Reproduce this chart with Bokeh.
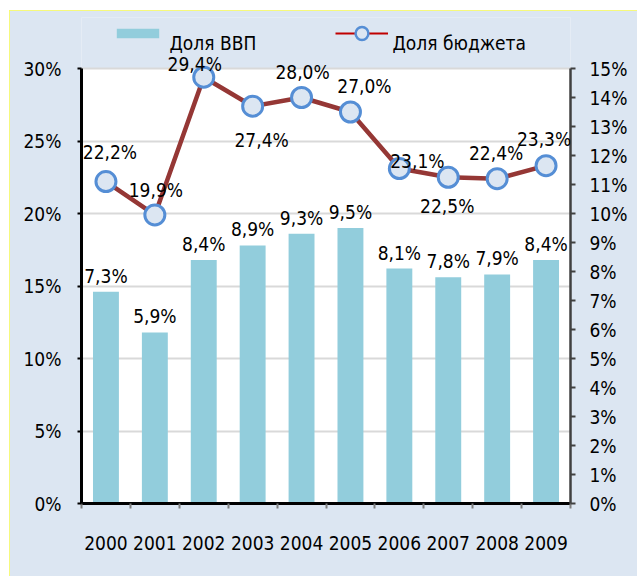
from bokeh.plotting import figure
from bokeh.models import (Range1d, LinearAxis, FixedTicker, PrintfTickFormatter,
                          Legend, LegendItem, Grid, BoxAnnotation, Label, LabelSet,
                          ColumnDataSource)
from bokeh.core.properties import value
from bokeh.embed import file_html
from bokeh.resources import INLINE

years = [2000, 2001, 2002, 2003, 2004, 2005, 2006, 2007, 2008, 2009]
gdp_share = [7.3, 5.9, 8.4, 8.9, 9.3, 9.5, 8.1, 7.8, 7.9, 8.4]
budget_share = [22.2, 19.9, 29.4, 27.4, 28.0, 27.0, 23.1, 22.5, 22.4, 23.3]
left_ticks = [0, 5, 10, 15, 20, 25, 30]
right_ticks = list(range(0, 16))
series_names = ["Доля ВВП", "Доля бюджета"]

FONT_NAME = "DejaVu Sans Condensed"
FONT = value(FONT_NAME)
FS = "19px"
BG = "#dce6f2"

LEFT_MAX, RIGHT_MAX = 30, 15
PLOT_H = 435          # pixel height of the white plot area
FRAME_H = 486         # frame also covers the legend strip above it
ext = FRAME_H / PLOT_H


def fmt(v):
    return f"{v:.1f}".replace(".", ",") + "%"


p = figure(width=628, height=566, x_range=Range1d(years[0] - 0.5, years[-1] + 0.5),
           y_range=Range1d(0, LEFT_MAX * ext),
           output_backend="svg", toolbar_location=None,
           min_border_left=72, min_border_right=67, min_border_top=7, min_border_bottom=73,
           border_fill_color=BG, background_fill_color=BG, outline_line_color=None,
           x_axis_type=None, y_axis_type=None)
p.margin = (10, 0, 0, 9)
p.styles = {"outline": "2px solid #ffff55", "outline-offset": "-2px"}
p.extra_y_ranges = {"right": Range1d(0, RIGHT_MAX * ext)}

# white plot area
p.add_layout(BoxAnnotation(bottom=0, top=LEFT_MAX, fill_color="white", fill_alpha=1,
                           line_color=None, level="underlay"))
p.add_layout(Grid(dimension=1, ticker=FixedTicker(ticks=left_ticks), grid_line_color="#d9d9d9",
                  grid_line_width=2, bounds=(0, LEFT_MAX)))

# axes
xaxis = LinearAxis(ticker=FixedTicker(ticks=years, minor_ticks=[y - 0.5 for y in years] + [years[-1] + 0.5]),
                   formatter=PrintfTickFormatter(format="%d"))
xaxis.major_tick_out = 0
xaxis.major_tick_in = 0
xaxis.minor_tick_out = 5
xaxis.minor_tick_in = 0
xaxis.minor_tick_line_color = "#7f7f7f"
xaxis.minor_tick_line_width = 2
xaxis.axis_line_color = "black"
xaxis.axis_line_width = 3
xaxis.major_label_standoff = 27
xaxis.major_label_text_font = FONT_NAME
xaxis.major_label_text_font_size = FS
xaxis.major_label_text_color = "black"
p.add_layout(xaxis, "below")

yleft = LinearAxis(ticker=FixedTicker(ticks=left_ticks), formatter=PrintfTickFormatter(format="%d%%"),
                   bounds=(0, LEFT_MAX))
yleft.major_tick_out = 4
yleft.major_tick_in = 0
yleft.minor_tick_out = 0
yleft.minor_tick_in = 0
yleft.major_tick_line_width = 2
yleft.axis_line_width = 3
yleft.axis_line_color = "black"
yleft.major_label_standoff = 16
yleft.major_label_text_font = FONT_NAME
yleft.major_label_text_font_size = FS
yleft.major_label_text_color = "black"
p.add_layout(yleft, "left")

yright = LinearAxis(y_range_name="right", ticker=FixedTicker(ticks=right_ticks),
                    formatter=PrintfTickFormatter(format="%d%%"), bounds=(0, RIGHT_MAX))
yright.major_tick_out = 5
yright.major_tick_in = 0
yright.minor_tick_out = 0
yright.minor_tick_in = 0
yright.major_tick_line_width = 2
yright.major_tick_line_color = "#404040"
yright.axis_line_width = 2.5
yright.axis_line_color = "#404040"
yright.major_label_standoff = 14
yright.major_label_text_font = FONT_NAME
yright.major_label_text_font_size = FS
yright.major_label_text_color = "black"
p.add_layout(yright, "right")

# bars (right axis)
bars = p.vbar(x=years, top=gdp_share, bottom=0, width=0.53, y_range_name="right",
              fill_color="#92cddc", line_color=None)

# line (left axis)
p.line(years, budget_share, line_color="#953735", line_width=4.5)
p.scatter(years, budget_share, size=20, fill_color=BG, line_color="#558ed5", line_width=3)

# labels
p.text(x=years, y=gdp_share, text=[fmt(v) for v in gdp_share], y_range_name="right",
       text_align="center", text_baseline="middle", y_offset=-16,
       text_font=FONT, text_font_size=FS, text_color="black")

line_dx = [4, 1, -9, 9, 1, 14, 18, -1, -1, -2]
line_dy = [30, 25, 13, -34, 26, 26, 8, -29, 26, 27]   # screen px, up positive
lbl_src = ColumnDataSource(dict(x=years, y=budget_share, text=[fmt(v) for v in budget_share],
                                dx=line_dx, dy=line_dy))
p.add_layout(LabelSet(x="x", y="y", text="text", x_offset="dx", y_offset="dy", source=lbl_src,
                      text_align="center", text_baseline="middle",
                      text_font=FONT, text_font_size=FS, text_color="black"))

# legend glyphs (invisible copies styled like the legend keys)
leg_line = p.line(years, budget_share, line_color="#c00000", line_width=2, visible=False)
leg_marker = p.scatter(years, budget_share, size=13, fill_color=BG, line_color="#558ed5",
                       line_width=2.5, visible=False)

common = dict(glyph_width=53, label_standoff=0, label_width=0,
              padding=0, margin=0, border_line_color=None, background_fill_alpha=0,
              label_text_font=FONT_NAME, label_text_font_size="1px", label_text_alpha=0,
              inactive_fill_alpha=0)
leg1 = Legend(items=[LegendItem(label=series_names[0], renderers=[bars])],
              glyph_height=12, label_height=12, location=(30, 464), **common)
leg2 = Legend(items=[LegendItem(label=series_names[1], renderers=[leg_line, leg_marker])],
              glyph_height=32, label_height=32, location=(254, 454), **common)
p.add_layout(leg1, "center")
p.add_layout(leg2, "center")

# legend texts
for name, dx in zip(series_names, [88, 311]):
    p.add_layout(Label(x=years[0] - 0.5, y=LEFT_MAX, x_offset=dx, y_offset=26, text=name,
                       text_align="left", text_baseline="middle",
                       text_font=FONT_NAME, text_font_size=FS, text_color="black"))

open("out.html", "w").write(file_html(p, INLINE))
